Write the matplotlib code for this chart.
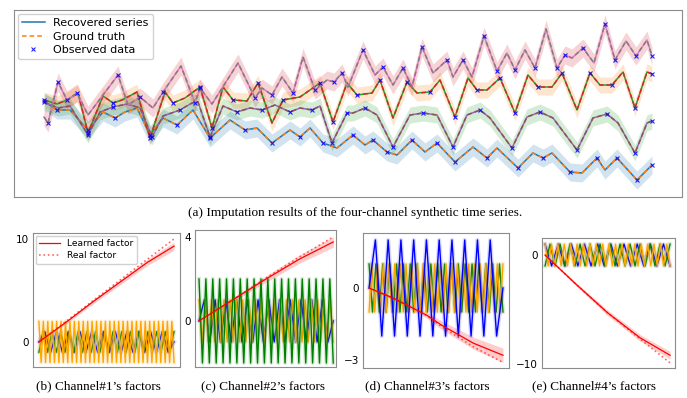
import numpy as np
import matplotlib
matplotlib.use("Agg")
import matplotlib.pyplot as plt

# ---- (a) four channels, x = time step, y = level (axis drawn inverted)
pink_x = [44, 48, 58, 67, 77, 88, 118, 128, 140, 153, 163, 181, 195, 200, 212, 238, 255, 262, 272,
          282, 293, 303, 315, 327, 334, 342, 348, 363, 375, 383, 393, 403, 412, 422, 433, 447, 453,
          463, 472, 484, 497, 507, 515, 525, 535, 546, 557, 565, 572, 583, 594, 605, 615, 626, 636,
          647, 652]
pink_y = [117, 123, 82, 100, 93, 115, 75, 105, 97, 108, 92, 66, 103, 88, 104, 63, 98, 88, 95,
          77, 93, 57, 90, 80, 82, 73, 87, 50, 75, 67, 85, 68, 87, 47, 73, 60, 77,
          60, 77, 36, 71, 53, 70, 50, 68, 29, 68, 55, 58, 48, 63, 24, 60, 41, 56,
          40, 56]
pink_obs = [1, 2, 4, 6, 8, 10, 12, 13, 16, 18, 20, 22, 24, 25, 27, 29, 31, 33, 35, 37, 39, 40,
            42, 44, 46, 47, 49, 51, 52, 54, 56]

green_x = [44, 57, 67, 78, 88, 103, 113, 122, 137, 150, 165, 173, 185, 200, 212, 223, 233, 247,
           258, 272, 283, 300, 320, 333, 347, 357, 372, 380, 393, 407, 417, 430, 440, 455, 468,
           477, 487, 500, 515, 528, 538, 552, 562, 577, 590, 600, 612, 623, 635, 647, 652]
green_y = [100, 104, 100, 93, 133, 96, 103, 100, 92, 138, 92, 103, 98, 87, 128, 87, 100, 101,
           83, 123, 100, 97, 83, 122, 83, 95, 93, 80, 118, 82, 93, 92, 80, 117, 78,
           90, 90, 78, 113, 75, 87, 87, 73, 110, 73, 85, 85, 72, 108, 72, 74]
green_obs = [0, 2, 4, 6, 9, 11, 13, 14, 16, 18, 20, 22, 23, 25, 27, 29, 31, 33, 35, 37, 38, 40,
             42, 44, 46, 48, 50]

purple_x = [44, 58, 70, 88, 100, 113, 127, 140, 152, 163, 180, 192, 198, 210, 223, 237, 250, 262,
            275, 290, 300, 312, 320, 332, 347, 353, 365, 377, 393, 410, 423, 437, 453, 467, 480,
            490, 512, 527, 540, 553, 577, 593, 607, 618, 635, 647, 652]
purple_y = [102, 108, 106, 135, 112, 107, 104, 108, 137, 116, 110, 103, 102, 137, 106, 112, 108, 110,
            105, 112, 108, 110, 106, 143, 113, 113, 108, 115, 147, 115, 113, 115, 147, 115, 110,
            118, 148, 117, 112, 118, 150, 118, 114, 123, 153, 123, 121]
purple_obs = [0, 3, 5, 8, 10, 13, 15, 17, 19, 21, 23, 24, 26, 28, 30, 32, 34, 36, 38, 40, 42, 44, 46]

blue_x = [45, 57, 70, 88, 103, 115, 125, 137, 150, 163, 177, 193, 210, 230, 245, 257, 272, 290,
          300, 310, 323, 337, 353, 365, 373, 387, 397, 412, 425, 437, 455, 473, 487, 497, 518, 533,
          543, 552, 570, 582, 597, 605, 617, 637, 652]
blue_y = [102, 110, 110, 130, 112, 118, 112, 108, 135, 118, 125, 110, 138, 120, 130, 128, 143, 130,
          137, 128, 143, 148, 135, 145, 140, 152, 155, 140, 152, 143, 162, 147, 158, 148, 168, 153,
          158, 153, 172, 173, 158, 170, 158, 180, 165]
blue_obs = [1, 3, 5, 8, 10, 12, 14, 16, 18, 20, 22, 24, 25, 27, 29, 30, 32, 34, 36, 38, 40, 42, 43, 44]

# ---- (b)-(e) factors: periodic factors as successive peaks/troughs, trend factor as samples
blue_b = [0, 1, -1, 1, -1, 1, -1, 1, -1, 1, -1, 1, -1, 1, -1, 1, -1, 1, -1, 1, -1, 1, -1, 0]
green_b = [-1, 1, -1, 1, -1, 1, -1, 1, -1, 1, -1, 1, -1, 1, -1, 1,
           -1, 1, -1, 1, -1, 1, -1, 1, -1, 1, -1, 1, -1, 1, -1, 1]
orange_b = [2, -2, 2, -2, 2, -2, 2, -2, 2, -2, 2, -2, 2, -2, 2, -2, 2, -2, 2, -2, 2,
            -2, 2, -2, 2, -2, 2, -2, 2, -2, 2, -2, 2, -2, 2, -2, 2, -2, 2, -2, 2, -2,
            2, -2, 2, -2, 2, -2, 2, -2, 2, -2, 2, -2, 2, -2, 2, -2, 2, -2, 2, -2]
t_b = [0, 0.2, 0.4, 0.6, 0.8, 1.0]
learned_b = [0, 1.9, 3.9, 5.8, 7.7, 9.3]
real_b = [0, 2.0, 4.0, 6.0, 8.0, 10.0]
band_b = [0.05, 0.15, 0.2, 0.25, 0.3, 0.4]

blue_c = [0, 1, -1, 1, -1, 1, -1, 1, -1, 1, -1, 1, -1, 1, -1, 1, -1, 1, -1, 1, -1, 1, -1, 1, -1, 0]
orange_c = [1, -1, 1, -1, 1, -1, 1, -1, 1, -1, 1, -1, 1, -1, 1, -1, 1, -1, 1, -1, 1, -1,
            1, -1, 1, -1, 1, -1, 1, -1, 1, -1, 1, -1, 1, -1, 1, -1, 1, -1, 1, -1, 1, -1]
green_c = [2, -2, 2, -2, 2, -2, 2, -2, 2, -2, 2, -2, 2, -2, 2, -2, 2, -2, 2, -2,
           2, -2, 2, -2, 2, -2, 2, -2, 2, -2, 2, -2, 2, -2, 2, -2, 2, -2, 2, -2]
t_c = [0, 0.25, 0.5, 0.75, 1.0]
learned_c = [0, 1.0, 2.0, 2.95, 3.76]
real_c = [0, 1.0, 2.05, 3.05, 4.0]
band_c = [0.03, 0.1, 0.15, 0.2, 0.25]

blue_d = [0, 2, -2, 2, -2, 2, -2, 2, -2, 2, -2, 2, -2, 2, -2, 2, -2, 2, -2, 2, -2, 0]
green_d = [1, -1, 1, -1, 1, -1, 1, -1, 1, -1, 1, -1, 1, -1, 1, -1, 1, -1, 1, -1,
           1, -1, 1, -1, 1, -1, 1, -1, 1, -1, 1, -1, 1, -1, 1, -1, 1, -1, 1, -1]
orange_d = [-1, 1, -1, 1, -1, 1, -1, 1, -1, 1, -1, 1, -1, 1, -1, 1, -1, 1, -1, 1, -1, 1, -1, 1,
            -1, 1, -1, 1, -1, 1, -1, 1, -1, 1, -1, 1, -1, 1, -1, 1, -1, 1, -1, 1, -1, 1, -1, 1]
t_d = [0, 0.18, 0.43, 0.54, 0.78, 1.0]
learned_d = [0, -0.42, -1.13, -1.54, -2.3, -2.8]
real_d = [0, -0.42, -1.15, -1.6, -2.45, -3.1]
band_d = [0.03, 0.08, 0.12, 0.18, 0.25, 0.3]

blue_e = [1, -1, 1, -1, 1, -1, 1, -1, 1, -1, 1, -1, 1, -1, 1, -1, 1, -1, 1, -1]
green_e = [-1, 1, -1, 1, -1, 1, -1, 1, -1, 1, -1, 1, -1, 1, -1, 1, -1, 1, -1, 1, -1, 1, -1, 1, -1, 1]
orange_e = [1, -1, 1, -1, 1, -1, 1, -1, 1, -1, 1, -1, 1, -1, 1, -1, 1, -1, 1, -1,
            1, -1, 1, -1, 1, -1, 1, -1, 1, -1, 1, -1, 1, -1, 1, -1, 1, -1, 1, -1]
t_e = [0, 0.24, 0.5, 0.76, 1.0]
learned_e = [0, -2.6, -5.3, -7.6, -9.2]
real_e = [0, -2.6, -5.3, -7.7, -9.9]
band_e = [0.05, 0.15, 0.25, 0.3, 0.35]

SERIF = "Liberation Serif"
EDGE = "0.55"

fig = plt.figure(figsize=(6.87, 3.98), dpi=100)

# ---------------- top panel
ax = fig.add_axes([0.0204, 0.505, 0.9723, 0.4699])
channels = [(blue_x, blue_y, blue_obs, 9), (green_x, green_y, green_obs, 8),
            (purple_x, purple_y, purple_obs, 8), (pink_x, pink_y, pink_obs, 9)]
for k, (xs, ys, obs, w) in enumerate(channels):
    xs = np.array(xs)
    ys = np.array(ys)
    ax.fill_between(xs, ys - w, ys + w, color=f"C{k}", alpha=0.2, lw=0)
handles = []
for k, (xs, ys, obs, w) in enumerate(channels):
    l1, = ax.plot(xs, ys, color=f"C{2*k}", lw=1.1)
    l2, = ax.plot(xs, ys, color=f"C{2*k+1}", lw=1.1, ls="--", dashes=(3, 2))
    if k == 0:
        handles += [l1, l2]
for k, (xs, ys, obs, w) in enumerate(channels):
    xs = np.array(xs)
    ys = np.array(ys)
    m, = ax.plot(xs[obs], ys[obs], "x", color="blue", ms=2.8, mew=0.8, ls="none", alpha=0.85)
    if k == 0:
        handles.append(m)
ax.set_xlim(14, 682)
ax.set_ylim(197, 10)
ax.set_xticks([])
ax.set_yticks([])
for s in ax.spines.values():
    s.set_color(EDGE)
ax.legend(handles, ["Recovered series", "Ground truth", "Observed data"], loc="upper left",
          fontsize=8, handlelength=2.0, borderaxespad=0.35, labelspacing=0.3, framealpha=0.9)

fig.text(0.517, 0.464, "(a) Imputation results of the four-channel synthetic time series.",
         ha="center", va="center", family=SERIF, fontsize=9.5)


def factor_panel(rect, waves, t, learned, real, band, ylim, xlim, yticks, cap_x, caption,
                 legend=False):
    a = fig.add_axes(rect)
    for vals, col in waves:
        xs = np.linspace(0, 1, len(vals))
        a.plot(xs, vals, color=col, lw=3.0, alpha=0.15)
        a.plot(xs, vals, color=col, lw=1.0)
    t = np.array(t)
    lo = np.array(learned) - np.array(band)
    hi = np.array(learned) + np.array(band)
    a.fill_between(t, lo, hi, color="red", alpha=0.2, lw=0)
    a.plot(t, learned, color="red", lw=0.9, label="Learned factor")
    a.plot(t, real, color="red", lw=1.2, ls=":", alpha=0.6, label="Real factor")
    a.set_xlim(*xlim)
    a.set_ylim(*ylim)
    a.set_xticks([])
    a.set_yticks(yticks)
    a.tick_params(length=0, labelsize=7.5, pad=3)
    for s in a.spines.values():
        s.set_color(EDGE)
    if legend:
        a.legend(loc="upper left", fontsize=6.5, handlelength=2.3, borderaxespad=0.3,
                 labelspacing=0.3, framealpha=0.9)
    fig.text(cap_x, 0.030, caption, ha="center", va="center", family=SERIF, fontsize=9.5)
    return a


factor_panel([0.048, 0.078, 0.214, 0.3367],
             [(blue_b, "blue"), (green_b, "green"), (orange_b, "orange")],
             t_b, learned_b, real_b, band_b, (-2.43, 10.58), (-0.044, 1.044), [0, 10],
             98 / 687, "(b) Channel#1\u2019s factors", legend=True)
factor_panel([0.2838, 0.078, 0.2052, 0.3442],
             [(blue_c, "blue"), (orange_c, "orange"), (green_c, "green")],
             t_c, learned_c, real_c, band_c, (-2.19, 4.33), (-0.03, 1.02), [0, 4],
             263 / 687, "(c) Channel#2\u2019s factors")
factor_panel([0.5284, 0.0754, 0.2125, 0.3392],
             [(green_d, "green"), (orange_d, "orange"), (blue_d, "blue")],
             t_d, learned_d, real_d, band_d, (-3.33, 2.29), (-0.045, 1.045), [-3, 0],
             427 / 687, "(d) Channel#3\u2019s factors")
factor_panel([0.789, 0.0754, 0.1936, 0.3266],
             [(blue_e, "blue"), (green_e, "green"), (orange_e, "orange")],
             t_e, learned_e, real_e, band_e, (-10.37, 1.56), (-0.024, 1.04), [-10, 0],
             594 / 687, "(e) Channel#4\u2019s factors")

fig.savefig("out.png", dpi=100)
